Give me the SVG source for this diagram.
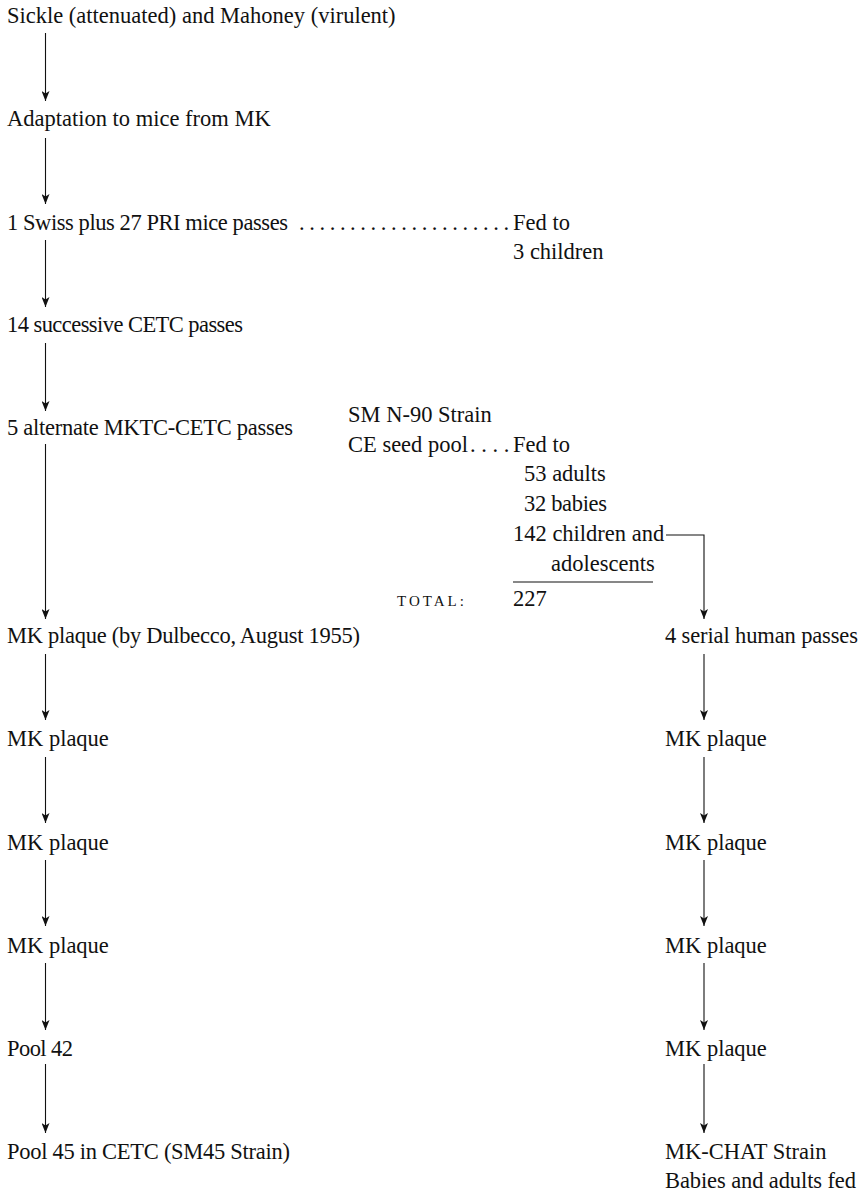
<svg xmlns="http://www.w3.org/2000/svg" width="866" height="1195" viewBox="0 0 866 1195">
<style>
text{font-family:"Liberation Serif","Times New Roman",serif;font-size:22.5px;fill:#111}
.sc{font-size:15px;letter-spacing:3px}
.c{fill:none;stroke:#111;stroke-width:1.1}
</style>
<defs>
<marker id="ah" markerUnits="userSpaceOnUse" markerWidth="10" markerHeight="8" refX="10" refY="4" orient="auto">
<path d="M0,0 L10,4 L0,8 L2.5,4 Z" fill="#111"/>
</marker>
</defs>
<rect width="866" height="1195" fill="#fff"/>
<g id="connectors">
<path class="c" d="M45.5,33 V101" marker-end="url(#ah)"/>
<path class="c" d="M45.5,138 V204" marker-end="url(#ah)"/>
<path class="c" d="M45.5,240 V307" marker-end="url(#ah)"/>
<path class="c" d="M45.5,343 V411" marker-end="url(#ah)"/>
<path class="c" d="M45.5,444 V619" marker-end="url(#ah)"/>
<path class="c" d="M45.5,654 V720" marker-end="url(#ah)"/>
<path class="c" d="M45.5,757 V823" marker-end="url(#ah)"/>
<path class="c" d="M45.5,860 V926" marker-end="url(#ah)"/>
<path class="c" d="M45.5,963 V1030" marker-end="url(#ah)"/>
<path class="c" d="M45.5,1064 V1133" marker-end="url(#ah)"/>
<path class="c" d="M666,535 H704 V619" marker-end="url(#ah)"/>
<path class="c" d="M704,654 V720" marker-end="url(#ah)"/>
<path class="c" d="M704,757 V823" marker-end="url(#ah)"/>
<path class="c" d="M704,860 V926" marker-end="url(#ah)"/>
<path class="c" d="M704,963 V1030" marker-end="url(#ah)"/>
<path class="c" d="M704,1064 V1133" marker-end="url(#ah)"/>
<line class="c" x1="513" y1="582" x2="653" y2="582"/>
</g>
<g id="n-sickle"><text x="7" y="23">Sickle (attenuated) and Mahoney (virulent)</text></g>
<g id="n-adapt"><text x="7" y="126">Adaptation to mice from MK</text></g>
<g id="n-swiss"><text x="7" y="229.5" textLength="281">1 Swiss plus 27 PRI mice passes</text>
<text x="299" y="229.5" textLength="210" lengthAdjust="spacing">. . . . . . . . . . . . . . . . . . . . .</text></g>
<g id="n-fed1"><text x="513" y="229.5">Fed to</text><text x="513" y="259">3 children</text></g>
<g id="n-cetc"><text x="7" y="331.5" textLength="236">14 successive CETC passes</text></g>
<g id="n-alt"><text x="7" y="435" textLength="286">5 alternate MKTC-CETC passes</text></g>
<g id="n-sm90"><text x="348" y="421.7">SM N-90 Strain</text>
<text x="348" y="451.5">CE seed pool</text>
<text x="470" y="451.5">. . . .</text></g>
<g id="n-fed2"><text x="513" y="451.5">Fed to</text>
<text x="524" y="481.3">53 adults</text>
<text x="524" y="511" textLength="83">32 babies</text>
<text x="513" y="540.8">142 children and</text>
<text x="551" y="570.6">adolescents</text>
<text class="sc" x="397" y="605.5">TOTAL:</text>
<text x="513" y="605.5">227</text></g>
<g id="n-mk1"><text x="7" y="643" textLength="353">MK plaque (by Dulbecco, August 1955)</text></g>
<g id="n-mk2"><text x="7" y="746">MK plaque</text></g>
<g id="n-mk3"><text x="7" y="849.5">MK plaque</text></g>
<g id="n-mk4"><text x="7" y="953">MK plaque</text></g>
<g id="n-pool42"><text x="7" y="1056" textLength="66">Pool 42</text></g>
<g id="n-pool45"><text x="7" y="1159" textLength="283">Pool 45 in CETC (SM45 Strain)</text></g>
<g id="n-human"><text x="665" y="643" textLength="193">4 serial human passes</text></g>
<g id="n-rmk1"><text x="665" y="746">MK plaque</text></g>
<g id="n-rmk2"><text x="665" y="849.5">MK plaque</text></g>
<g id="n-rmk3"><text x="665" y="953">MK plaque</text></g>
<g id="n-rmk4"><text x="665" y="1056">MK plaque</text></g>
<g id="n-chat"><text x="665" y="1159">MK-CHAT Strain</text><text x="665" y="1188" textLength="191">Babies and adults fed</text></g>
</svg>
